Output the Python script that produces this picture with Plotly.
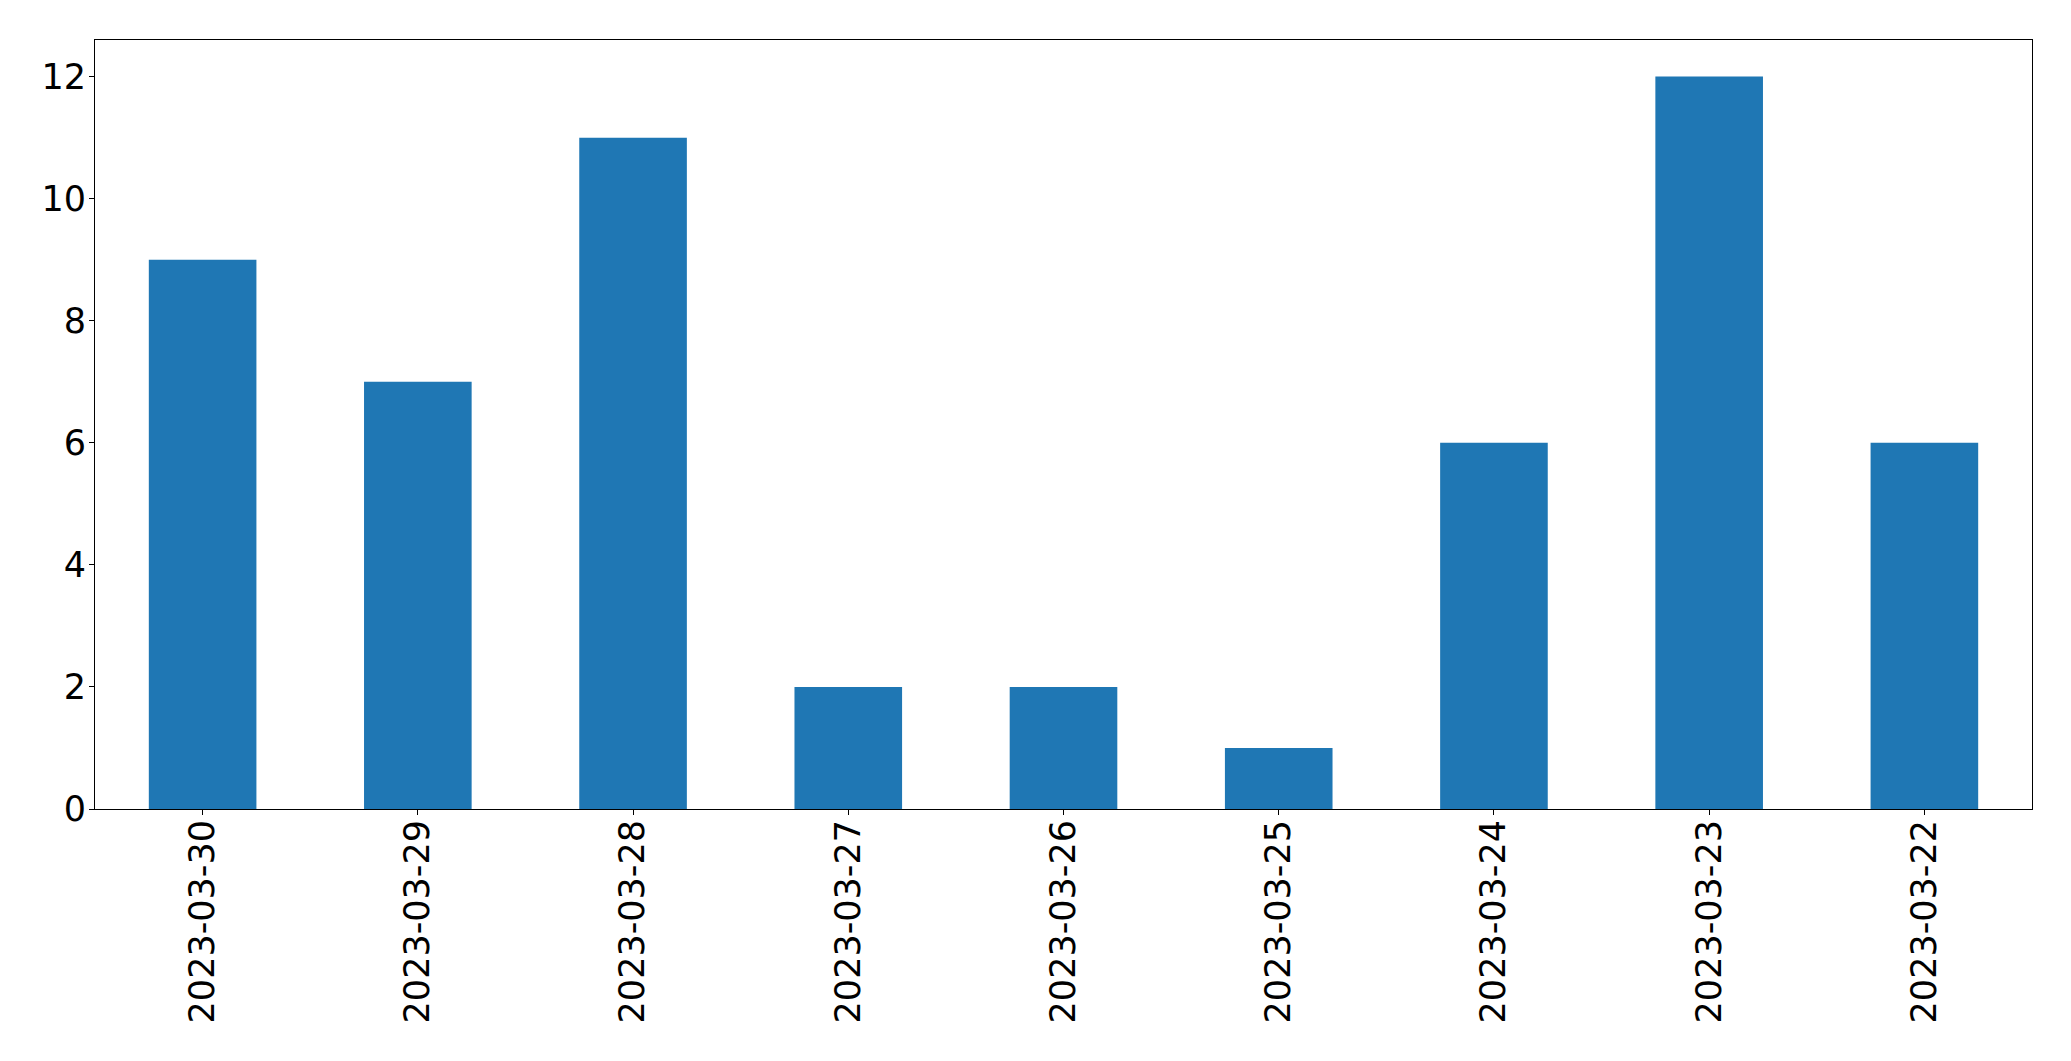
import plotly.graph_objects as go

dates = ["2023-03-30", "2023-03-29", "2023-03-28", "2023-03-27", "2023-03-26",
         "2023-03-25", "2023-03-24", "2023-03-23", "2023-03-22"]
counts = [9, 7, 11, 2, 2, 1, 6, 12, 6]
y_ticks = [0, 2, 4, 6, 8, 10, 12]

fig = go.Figure(go.Bar(x=dates, y=counts, marker=dict(color="#1f77b4", line=dict(width=0)),
                       width=0.5))

font = dict(family="DejaVu Sans", size=35, color="black")
fig.update_layout(
    width=2063, height=1053, autosize=False,
    margin=dict(l=86.5, r=39, t=31.5, b=252, pad=0),
    paper_bgcolor="white", plot_bgcolor="white",
    showlegend=False, font=font,
)
fig.update_xaxes(
    type="category", range=[-0.5, 8.5], tickangle=-90,
    showline=True, linecolor="black", linewidth=1, mirror=True,
    ticks="outside", ticklen=5, tickwidth=1, tickcolor="black",
    showgrid=False, zeroline=False, tickfont=font, ticklabelstandoff=-9,
)
fig.update_yaxes(
    range=[0, 12.6], tickvals=y_ticks,
    showline=True, linecolor="black", linewidth=1, mirror=True,
    ticks="outside", ticklen=5, tickwidth=1, tickcolor="black",
    showgrid=False, zeroline=False, tickfont=font, ticklabelstandoff=-4,
)
fig.write_html("out.html")
